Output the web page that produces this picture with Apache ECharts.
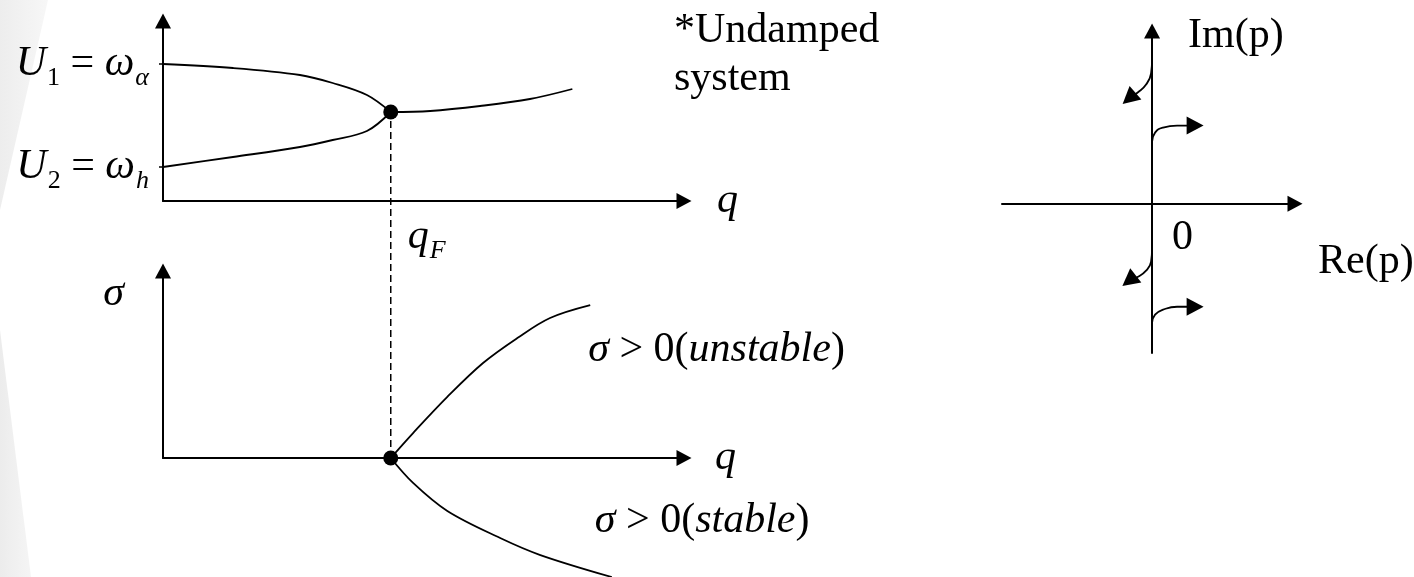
<!DOCTYPE html>
<html>
<head>
<meta charset="utf-8">
<script src="https://cdn.jsdelivr.net/npm/echarts@6.0.0/dist/echarts.min.js"></script>
<style>
  html, body { margin: 0; padding: 0; background: #ffffff; }
  #chart { width: 1414px; height: 577px; }
</style>
</head>
<body>
<div id="chart"></div>
<script>
// Flutter onset sketch: frequency coalescence (top left), damping split (bottom left)
// and the motion of the roots in the complex p-plane (right).

// ---- data ----
const qFlutter = 3.06;        // q_F
const omegaFlutter = 4.45;    // common frequency at q_F
const omegaAlpha = 6.85;      // U1 = ω_α
const omegaH = 1.7;           // U2 = ω_h

// frequency branches [q, ω]
const pitchBranch = [[0, 6.85], [0.94, 6.65], [1.84, 6.3], [2.28, 5.9], [2.74, 5.3], [3.06, 4.45]];
const plungeBranch = [[0, 1.7], [0.94, 2.2], [1.84, 2.7], [2.28, 3.05], [2.74, 3.5], [3.06, 4.45]];
const coalescedBranch = [[3.06, 4.45], [3.59, 4.5], [4.26, 4.75], [4.93, 5.1], [5.5, 5.6]];

// damping branches [q, σ]
const sigmaUnstable = [[3.06, 0], [3.36, 1.2], [3.82, 2.94], [4.30, 4.57], [4.76, 5.77], [5.20, 6.74], [5.74, 7.36]];
const sigmaStable = [[3.06, 0], [3.36, -1.2], [3.82, -2.55], [4.53, -3.85], [5.07, -4.67], [6.03, -5.73]];

// root paths in the p-plane [Re(p), Im(p)], last point carries the arrowhead
const rootUpperLeft = [[0, 1.67], [-0.007, 1.51], [-0.042, 1.38], [-0.098, 1.29], [-0.161, 1.22]];
const rootUpperRight = [[0, 0.718], [0.021, 0.823], [0.077, 0.881], [0.175, 0.904], [0.301, 0.904]];
const rootLowerLeft = [[0, -0.51], [-0.007, -0.672], [-0.042, -0.776], [-0.098, -0.846], [-0.161, -0.892]];
const rootLowerRight = [[0, -1.379], [0.021, -1.286], [0.077, -1.228], [0.175, -1.194], [0.301, -1.194]];
const planeOrigin = [0, 0];

// text
const noteLines = ['*Undamped', 'system'];
const freqTickLabels = { high: '{i|U}{s|1}{r| = }{i|ω}{is|α}', low: '{i|U}{s|2}{r| = }{i|ω}{is|h}' };
const unstableLabel = '{i|σ}{r| > 0(}{i|unstable}{r|)}';
const stableLabel = '{i|σ}{r| > 0(}{i|stable}{r|)}';
const originLabel = '0';

// ---- styling ----
const SERIF = '"Liberation Serif", "Times New Roman", serif';
const INK = '#000000';
const rich = {
  i: { fontFamily: SERIF, fontStyle: 'italic', fontSize: 42, lineHeight: 48, color: INK },
  r: { fontFamily: SERIF, fontSize: 42, lineHeight: 48, color: INK },
  s: { fontFamily: SERIF, fontSize: 26, lineHeight: 48, padding: [28, 0, 0, 1], color: INK },
  is: { fontFamily: SERIF, fontStyle: 'italic', fontSize: 26, lineHeight: 48, padding: [28, 0, 0, 1], color: INK }
};
const axisLine = {
  onZero: true,
  symbol: ['none', 'triangle'],
  symbolSize: [16, 15],
  lineStyle: { color: INK, width: 2 }
};
const bare = {
  axisTick: { show: false },
  axisLabel: { show: false },
  splitLine: { show: false }
};
const curve = { color: INK, width: 1.8 };
const dot = { color: INK, opacity: 1 };

function rootPath(points, rotate) {
  return points.map((p, k) => k === points.length - 1
    ? { value: p, symbol: 'triangle', symbolSize: [18, 17], symbolRotate: rotate }
    : { value: p, symbol: 'none' });
}

function anchoredText(value, text, offset) {
  return {
    value,
    label: {
      show: true, position: 'inside', align: 'left', verticalAlign: 'middle', offset,
      formatter: text, rich, color: INK, opacity: 1,
      fontFamily: SERIF, fontSize: 42
    }
  };
}

const chart = echarts.init(document.getElementById('chart'), null, { renderer: 'canvas' });

const option = {
  animation: false,
  backgroundColor: '#ffffff',
  title: {
    text: noteLines.join('\n'),
    left: 674, top: 7, padding: 0,
    textStyle: { fontFamily: SERIF, fontSize: 42, fontWeight: 'normal', lineHeight: 48, color: INK }
  },
  graphic: [
    { type: 'polygon', z: -10, shape: { points: [[0, 0], [48, 0], [0, 210]] },
      style: { fill: new echarts.graphic.LinearGradient(0, 0, 1, 0, [{ offset: 0, color: '#ededed' }, { offset: 1, color: '#f7f7f7' }]) } },
    { type: 'polygon', z: -10, shape: { points: [[0, 330], [31, 577], [0, 577]] },
      style: { fill: new echarts.graphic.LinearGradient(0, 0, 1, 0, [{ offset: 0, color: '#ececec' }, { offset: 1, color: '#f5f5f5' }]) } }
  ],
  grid: [
    { left: 163, right: 730, top: 21, bottom: 376, outerBoundsMode: 'none' },
    { left: 163, right: 730, top: 271, bottom: 119, outerBoundsMode: 'none' },
    { left: 1002, right: 119, top: 31, bottom: 224, outerBoundsMode: 'none' }
  ],
  xAxis: [
    {
      gridIndex: 0, type: 'value', min: 0, max: 7,
      axisLine, splitLine: { show: false }, axisTick: { show: false },
      name: 'q', nameLocation: 'end', nameGap: 33, nameMoveOverlap: false,
      nameTextStyle: { fontFamily: SERIF, fontStyle: 'italic', fontSize: 42, color: INK, verticalAlign: 'middle', padding: [0, 0, 6, 0] },
      axisLabel: {
        show: true, customValues: [qFlutter], margin: 12, align: 'left', padding: [0, 0, 0, 17],
        formatter: () => '{i|q}{is|F}', rich
      }
    },
    {
      gridIndex: 1, type: 'value', min: 0, max: 7, axisLine, ...bare,
      name: 'q', nameLocation: 'end', nameGap: 31, nameMoveOverlap: false,
      nameTextStyle: { fontFamily: SERIF, fontStyle: 'italic', fontSize: 42, color: INK, verticalAlign: 'middle', padding: [0, 0, 0, 0] }
    },
    {
      gridIndex: 2, type: 'value', min: -1.05, max: 1.0, axisLine, ...bare,
      name: 'Re(p)', nameLocation: 'end', nameGap: 23, nameMoveOverlap: false,
      nameTextStyle: { fontFamily: SERIF, fontSize: 42, color: INK, align: 'left', verticalAlign: 'top', padding: [37, 0, 0, 0] }
    }
  ],
  yAxis: [
    {
      gridIndex: 0, type: 'value', min: 0, max: 9,
      axisLine, splitLine: { show: false },
      axisTick: { show: true, customValues: [omegaH, omegaAlpha], length: 4, lineStyle: { color: INK, width: 1.5 } },
      axisLabel: {
        show: true, customValues: [omegaH, omegaAlpha], margin: 14,
        formatter: v => (v > omegaFlutter ? freqTickLabels.high : freqTickLabels.low), rich
      }
    },
    {
      gridIndex: 1, type: 'value', min: 0, max: 9, axisLine, ...bare,
      name: 'σ', nameLocation: 'end', nameGap: -23, nameMoveOverlap: false,
      nameTextStyle: { fontFamily: SERIF, fontStyle: 'italic', fontSize: 42, color: INK, align: 'right', verticalAlign: 'middle', padding: [0, 39, 0, 0] }
    },
    {
      gridIndex: 2, type: 'value', min: -1.73, max: 2.0, axisLine, ...bare,
      name: 'Im(p)', nameLocation: 'end', nameGap: -5, nameMoveOverlap: false,
      nameTextStyle: { fontFamily: SERIF, fontSize: 42, color: INK, align: 'left', verticalAlign: 'middle', padding: [0, 0, 0, 36] }
    }
  ],
  series: [
    // frequencies
    { type: 'line', xAxisIndex: 0, yAxisIndex: 0, data: pitchBranch, smooth: 0.35, symbol: 'none', lineStyle: curve },
    { type: 'line', xAxisIndex: 0, yAxisIndex: 0, data: plungeBranch, smooth: 0.35, symbol: 'none', lineStyle: curve },
    { type: 'line', xAxisIndex: 0, yAxisIndex: 0, data: coalescedBranch, smooth: 0.35, symbol: 'none', lineStyle: curve },
    { type: 'scatter', xAxisIndex: 0, yAxisIndex: 0, data: [[qFlutter, omegaFlutter]], symbolSize: 15, itemStyle: dot, z: 5, clip: false },
    // damping
    { type: 'line', xAxisIndex: 1, yAxisIndex: 1, data: sigmaUnstable, smooth: 0.35, symbol: 'none', lineStyle: curve, clip: false },
    { type: 'line', xAxisIndex: 1, yAxisIndex: 1, data: sigmaStable, smooth: 0.35, symbol: 'none', lineStyle: curve, clip: false },
    { type: 'scatter', xAxisIndex: 1, yAxisIndex: 1, data: [[qFlutter, 0]], symbolSize: 15, itemStyle: dot, z: 5, clip: false },
    {
      type: 'scatter', xAxisIndex: 1, yAxisIndex: 1, symbolSize: 0, clip: false, silent: true, itemStyle: dot,
      data: [
        anchoredText(sigmaUnstable[sigmaUnstable.length - 1], unstableLabel, [-2, 45]),
        anchoredText(sigmaStable[sigmaStable.length - 1], stableLabel, [-17, -56])
      ]
    },
    // root paths
    { type: 'line', xAxisIndex: 2, yAxisIndex: 2, data: rootPath(rootUpperLeft, 131), smooth: 0.5, showSymbol: true, itemStyle: dot, lineStyle: curve },
    { type: 'line', xAxisIndex: 2, yAxisIndex: 2, data: rootPath(rootUpperRight, -90), smooth: 0.5, showSymbol: true, itemStyle: dot, lineStyle: curve },
    { type: 'line', xAxisIndex: 2, yAxisIndex: 2, data: rootPath(rootLowerLeft, 128), smooth: 0.5, showSymbol: true, itemStyle: dot, lineStyle: curve },
    { type: 'line', xAxisIndex: 2, yAxisIndex: 2, data: rootPath(rootLowerRight, -90), smooth: 0.5, showSymbol: true, itemStyle: dot, lineStyle: curve },
    {
      type: 'scatter', xAxisIndex: 2, yAxisIndex: 2, symbolSize: 0, silent: true, itemStyle: dot,
      data: [anchoredText(planeOrigin, originLabel, [20, 34])]
    }
  ]
};

chart.setOption(option);

// q_F marker: dashed line from the coalescence point down to the damping axis
const topPoint = chart.convertToPixel({ gridIndex: 0 }, [qFlutter, omegaFlutter]);
const reach = chart.convertFromPixel({ gridIndex: 1 }, topPoint);
chart.setOption({
  series: option.series.concat([{
    type: 'line', xAxisIndex: 1, yAxisIndex: 1, clip: false, symbol: 'none', z: 1,
    data: [[qFlutter, 0], [qFlutter, reach[1]]],
    lineStyle: { color: INK, width: 1.5, type: [7, 4] }
  }])
});
</script>
</body>
</html>
